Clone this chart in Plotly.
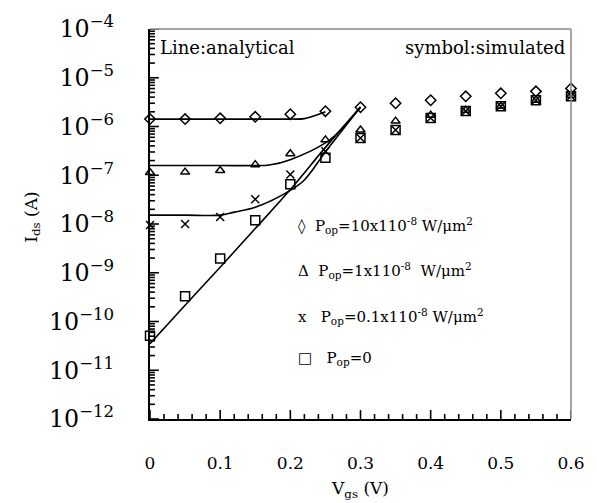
import math
import plotly.graph_objects as go

# ---------------- data ----------------
vgs_sim = [0.0, 0.05, 0.10, 0.15, 0.20, 0.25, 0.30, 0.35, 0.40, 0.45, 0.50, 0.55, 0.60]

ids_sim_p10 = [1.42e-6, 1.42e-6, 1.47e-6, 1.58e-6, 1.79e-6, 2.06e-6, 2.49e-6,
               3.0e-6, 3.45e-6, 4.16e-6, 4.79e-6, 5.26e-6, 6.05e-6]
ids_sim_p1 = [1.14e-7, 1.16e-7, 1.25e-7, 1.65e-7, 2.76e-7, 5.32e-7, 8.5e-7,
              1.29e-6, 1.71e-6, 2.16e-6, 2.61e-6, 3.45e-6, 4.36e-6]
ids_sim_p01 = [9.55e-9, 1.0e-8, 1.39e-8, 3.22e-8, 1.04e-7, 3.1e-7, 5.83e-7,
               8.49e-7, 1.49e-6, 2.07e-6, 2.61e-6, 3.45e-6, 4.16e-6]
ids_sim_p0 = [5.08e-11, 3.3e-10, 1.95e-9, 1.2e-8, 6.5e-8, 2.29e-7, 5.83e-7,
              8.49e-7, 1.49e-6, 2.07e-6, 2.61e-6, 3.45e-6, 4.16e-6]

# analytical curves
vgs_ana_p10 = [0.0, 0.05, 0.10, 0.15, 0.20, 0.22, 0.25]
ids_ana_p10 = [1.42e-6, 1.42e-6, 1.42e-6, 1.42e-6, 1.42e-6, 1.45e-6, 2.0e-6]

vgs_ana_p1 = [0.0, 0.05, 0.10, 0.15, 0.17, 0.20, 0.25, 0.27, 0.30]
ids_ana_p1 = [1.58e-7, 1.58e-7, 1.58e-7, 1.58e-7, 1.62e-7, 2.09e-7, 4.6e-7, 8.0e-7, 2.5e-6]

vgs_ana_p01 = [0.0, 0.05, 0.10, 0.12, 0.15, 0.20, 0.22, 0.25, 0.30]
ids_ana_p01 = [1.52e-8, 1.52e-8, 1.52e-8, 1.75e-8, 2.2e-8, 4.9e-8, 8.0e-8, 3.0e-7, 2.5e-6]

vgs_ana_p0 = [0.0, 0.05, 0.10, 0.15, 0.20, 0.25, 0.30]
ids_ana_p0 = [3.5e-11, 2.16e-10, 1.3e-9, 8.07e-9, 5.1e-8, 3.73e-7, 2.5e-6]

# axis ticks
x_major_ticks = [0.0, 0.1, 0.2, 0.3, 0.4, 0.5, 0.6]
x_tick_labels = ["0", "0.1", "0.2", "0.3", "0.4", "0.5", "0.6"]
x_minor_step = 0.02
y_decades = [-12, -11, -10, -9, -8, -7, -6, -5, -4]

legend_rows = [
    "◊  P<sub>op</sub>=10x110<sup>-8</sup> W/μm<sup>2</sup>",
    "Δ  P<sub>op</sub>=1x110<sup>-8</sup>  W/μm<sup>2</sup>",
    "x   P<sub>op</sub>=0.1x110<sup>-8</sup> W/μm<sup>2</sup>",
    "□   P<sub>op</sub>=0",
]

# ---------------- figure ----------------
FONT = "DejaVu Serif"
W, H = 597, 503
ML, MR, MT, MB = 150, 20, 25, 84
PW, PH = W - ML - MR, H - MT - MB
X_RANGE = [0, 0.6]
Y_RANGE = [-12, -4]


def px(x):
    return (x - ML) / PW


def py(y):
    return (H - MB - y) / PH


fig = go.Figure()

line_style = dict(color="black", width=1.6)
for xs, ys in [(vgs_ana_p10, ids_ana_p10), (vgs_ana_p1, ids_ana_p1),
               (vgs_ana_p01, ids_ana_p01), (vgs_ana_p0, ids_ana_p0)]:
    fig.add_trace(go.Scatter(x=xs, y=ys, mode="lines", line=line_style,
                             line_shape="spline", cliponaxis=False, showlegend=False,
                             hoverinfo="skip"))

marker_specs = [
    (ids_sim_p10, "diamond-open", 8),
    (ids_sim_p1, "triangle-up-open", 8),
    (ids_sim_p01, "x-thin-open", 8),
    (ids_sim_p0, "square-open", 9),
]
for ys, sym, sz in marker_specs:
    fig.add_trace(go.Scatter(
        x=vgs_sim, y=ys, mode="markers", cliponaxis=False, showlegend=False,
        marker=dict(symbol=sym, size=sz, color="black",
                    line=dict(color="black", width=1.5))))

# ---- inside tick marks drawn as a line trace (axis decoration built from the tick arrays)
MAJ, MIN = 9, 5  # pixels
x_per_px = (X_RANGE[1] - X_RANGE[0]) / PW
dec_per_px = (Y_RANGE[1] - Y_RANGE[0]) / PH
tx, ty = [], []
n_minor_x = int(round((X_RANGE[1] - X_RANGE[0]) / x_minor_step))
for i in range(n_minor_x + 1):
    xv = X_RANGE[0] + i * x_minor_step
    is_major = any(abs(xv - t) < 1e-9 for t in x_major_ticks)
    L = MAJ if is_major else MIN
    tx += [xv, xv, None]
    ty += [10 ** Y_RANGE[0], 10 ** (Y_RANGE[0] + L * dec_per_px), None]
for d in y_decades:
    tx += [X_RANGE[0], X_RANGE[0] + MAJ * x_per_px, None]
    ty += [10 ** d, 10 ** d, None]
    if d < y_decades[-1]:
        for k in range(2, 10):
            v = k * 10 ** d
            tx += [X_RANGE[0], X_RANGE[0] + MIN * x_per_px, None]
            ty += [v, v, None]
fig.add_trace(go.Scatter(x=tx, y=ty, mode="lines", line=dict(color="black", width=1.6),
                         cliponaxis=False, showlegend=False, hoverinfo="skip",
                         connectgaps=False))

fig.update_layout(
    xaxis=dict(
        range=X_RANGE, tickvals=x_major_ticks, ticktext=x_tick_labels,
        showgrid=False, zeroline=False,
        showline=True, linecolor="black", linewidth=2,
        ticks="", tickfont=dict(family=FONT, size=17, color="black"),
        ticklabelstandoff=28,
    ),
    yaxis=dict(
        type="log", range=Y_RANGE, dtick=1,
        exponentformat="power", showexponent="all",
        showgrid=False, zeroline=False,
        showline=True, linecolor="black", linewidth=2,
        ticks="", tickfont=dict(family=FONT, size=19, color="black"),
        ticklabelstandoff=30,
    ),
)

# grey top/right frame
fig.add_shape(type="line", xref="paper", yref="paper", x0=0, x1=1, y0=1, y1=1,
              line=dict(color="#888888", width=1.5))
fig.add_shape(type="line", xref="paper", yref="paper", x0=1, x1=1, y0=0, y1=1,
              line=dict(color="#888888", width=1.5))

ann = []
ann.append(dict(text="Line:analytical", x=px(158), y=py(44), xanchor="left", yanchor="middle",
                font=dict(family=FONT, size=18, color="black")))
ann.append(dict(text="symbol:simulated", x=px(573), y=py(44), xanchor="right", yanchor="middle",
                font=dict(family=FONT, size=18, color="black")))
row_y = [224, 269, 315, 358]
for t, yy in zip(legend_rows, row_y):
    ann.append(dict(text=t, x=px(298), y=py(yy), xanchor="left", yanchor="middle",
                    font=dict(family=FONT, size=15, color="black")))
ann.append(dict(text="V<sub>gs</sub> (V)", x=px(363), y=py(490), xanchor="center", yanchor="middle",
                font=dict(family=FONT, size=17, color="black")))
ann.append(dict(text="I<sub>ds</sub> (A)", x=px(30), y=py(215), xanchor="center", yanchor="middle",
                textangle=-90, font=dict(family=FONT, size=17, color="black")))
for a in ann:
    a.update(xref="paper", yref="paper", showarrow=False)

fig.update_layout(
    width=W, height=H,
    margin=dict(l=ML, r=MR, t=MT, b=MB),
    paper_bgcolor="white", plot_bgcolor="white",
    annotations=ann,
    showlegend=False,
)

fig.write_html("out.html")
